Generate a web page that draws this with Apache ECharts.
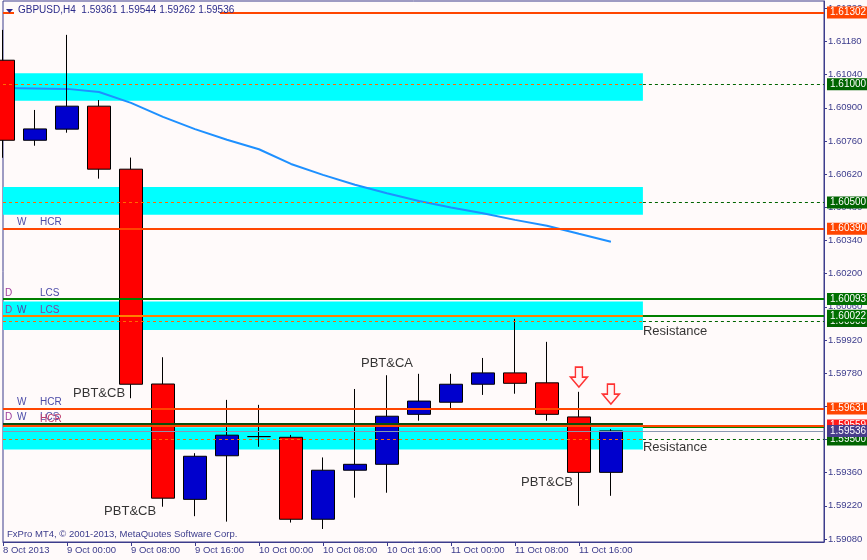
<!DOCTYPE html>
<html>
<head>
<meta charset="utf-8">
<title>GBPUSD,H4</title>
<script src="https://cdn.jsdelivr.net/npm/echarts@6.0.0/dist/echarts.min.js"></script>
<style>
	html, body { margin: 0; padding: 0; background: #fffafa; }
	#main { width: 867px; height: 560px; }
</style>
</head>
<body>
<div id="main"></div>
<script>
var symbolName = 'GBPUSD,H4';

// H4 bars: open, high, low, close
var ohlc = [
	[1.61101, 1.61229, 1.60689, 1.60763],
	[1.60763, 1.60891, 1.60740, 1.60811],
	[1.60810, 1.61208, 1.60795, 1.60907],
	[1.60907, 1.60933, 1.60601, 1.60641],
	[1.60641, 1.60690, 1.59674, 1.59733],
	[1.59734, 1.59847, 1.59216, 1.59252],
	[1.59247, 1.59442, 1.59176, 1.59429],
	[1.59431, 1.59667, 1.59153, 1.59518],
	[1.59512, 1.59646, 1.59469, 1.59512],
	[1.59509, 1.59519, 1.59149, 1.59163],
	[1.59163, 1.59424, 1.59122, 1.59370],
	[1.59370, 1.59713, 1.59254, 1.59395],
	[1.59395, 1.59771, 1.59275, 1.59598],
	[1.59606, 1.59777, 1.59579, 1.59662],
	[1.59657, 1.59777, 1.59629, 1.59733],
	[1.59733, 1.59844, 1.59688, 1.59781],
	[1.59781, 1.60009, 1.59693, 1.59737],
	[1.59739, 1.59912, 1.59579, 1.59606],
	[1.59595, 1.59701, 1.59220, 1.59361],
	[1.59361, 1.59544, 1.59262, 1.59536]
];

// moving average
var ma = [1.60984, 1.60982, 1.60980, 1.60967, 1.60921, 1.60862, 1.60810, 1.60765, 1.60725, 1.60663,
	1.60617, 1.60575, 1.60539, 1.60507, 1.60479, 1.60455, 1.60427, 1.60402, 1.60368, 1.60335];

// time axis
var xLabels = ['8 Oct 2013', '9 Oct 00:00', '9 Oct 08:00', '9 Oct 16:00', '10 Oct 00:00',
	'10 Oct 08:00', '10 Oct 16:00', '11 Oct 00:00', '11 Oct 08:00', '11 Oct 16:00'];
var xLabelIdx = [0, 2, 4, 6, 8, 10, 12, 14, 16, 18];
var xMax = 25.66;

// price axis
var yMin = 1.59067, yMax = 1.61351;
var yTicks = [1.59080, 1.59220, 1.59360, 1.59500, 1.59640, 1.59780, 1.59920, 1.60060, 1.60200,
	1.60340, 1.60480, 1.60620, 1.60760, 1.60900, 1.61040, 1.61180, 1.61320];

// cyan zones (top, bottom, middle dashed level), they end at bar index zoneEnd
var zoneTop = [1.61046, 1.60566, 1.60082, 1.59551];
var zoneBot = [1.60930, 1.60449, 1.59962, 1.59457];
var zoneMid = [1.61000, 1.60500, 1.60000, 1.59500];
var zoneEnd = 20;

// levels
var hcrLines = [1.61302, 1.60390, 1.59631, 1.59559];
var lcsLines = [1.60093, 1.60022];
var zoneLcs = 1.60022;
var zoneDark = 1.59567;
var zoneGreenR = 1.59552;

// level names at the left
var tagPrice = [1.60390, 1.60093, 1.60022, 1.59631, 1.59567, 1.59559];
var tagD = ['', 'D', 'D', '', 'D', ''];
var tagW = ['W', '', 'W', 'W', 'W', ''];
var tagT = ['HCR', 'LCS', 'LCS', 'HCR', 'LCS', 'HCR'];

// text notes: left bar index, price, text
var noteIdx = [2.19, 3.16, 11.19, 16.19, 20.0, 20.0];
var notePrice = [1.59696, 1.59198, 1.59819, 1.59318, 1.59954, 1.59465];
var noteText = ['PBT&CB', 'PBT&CB', 'PBT&CA', 'PBT&CB', 'Resistance', 'Resistance'];

// sell arrows
var arrowIdx = [18, 19];
var arrowTip = [1.59721, 1.59649];

var fnt = "'Liberation Sans', Arial, sans-serif";
var axisColor = '#3c3c8c';

function seg(x0, x1, p, color, width, type, tagBg) {
	var a = {
		coord: [x0, p],
		lineStyle: { color: color, width: width, type: type },
		label: { show: false }
	};
	if (tagBg) {
		a.label = {
			show: true,
			position: 'end',
			distance: 3,
			formatter: p.toFixed(5),
			color: '#fff',
			backgroundColor: tagBg,
			fontFamily: fnt,
			fontSize: 10,
			lineHeight: 11,
			padding: [1, 3, 0, 3]
		};
	}
	return [a, { coord: [x1, p] }];
}

function init() {
	var last = ohlc[ohlc.length - 1];
	var lines = [];
	var i;

	// dashed middle levels of the zones
	for (i = 0; i < zoneMid.length; i++) {
		lines.push(seg(0, zoneEnd, zoneMid[i], '#ff6a00', 1, [3, 3]));
		lines.push(seg(zoneEnd, xMax, zoneMid[i], '#006400', 1, [3, 3], '#006400'));
	}
	for (i = 0; i < hcrLines.length; i++) {
		lines.push(seg(0, xMax, hcrLines[i], '#ff4500', 2, 'solid', i == 3 ? '#ff1a1a' : '#ff4500'));
	}
	for (i = 0; i < lcsLines.length; i++) {
		lines.push(seg(0, xMax, lcsLines[i], '#008000', 2, 'solid', '#007000'));
	}
	lines.push(seg(0, zoneEnd, zoneLcs, '#ff8000', 2, 'solid'));
	lines.push(seg(0, zoneEnd, zoneDark, '#0b4d0b', 2, 'solid'));
	lines.push(seg(zoneEnd, xMax, zoneGreenR, '#008000', 1, 'solid'));
	// bid line
	lines.push(seg(0, xMax, last[3], '#8a98b0', 1, 'solid', '#483d8b'));

	var areas = [];
	for (i = 0; i < zoneTop.length; i++) {
		areas.push([{ coord: [0, zoneTop[i]] }, { coord: [zoneEnd, zoneBot[i]] }]);
	}

	var tagLines = [];
	for (i = 0; i < tagPrice.length; i++) {
		var tStyle = (i == 2) ? 'tp' : (i == 5 ? 'tr' : 't');
		tagLines.push([{
			coord: [0, tagPrice[i]],
			lineStyle: { color: 'rgba(0,0,0,0)', width: 0 },
			label: {
				show: true,
				position: 'insideStartTop',
				distance: [2, 1],
				formatter: '{d|' + tagD[i] + '}{w|' + tagW[i] + '}{' + tStyle + '|' + tagT[i] + '}',
				rich: {
					d: { width: 12, color: '#a03c9c', fontSize: 10, fontFamily: fnt },
					w: { width: 23, color: '#4b4ba8', fontSize: 10, fontFamily: fnt },
					t: { color: '#4b4ba8', fontSize: 10, fontFamily: fnt },
					tp: { color: '#8a3c9c', fontSize: 10, fontFamily: fnt },
					tr: { color: '#c04070', fontSize: 10, fontFamily: fnt }
				}
			}
		}, { coord: [xMax, tagPrice[i]] }]);
	}

	var candles = ohlc.map(function(d, k) {
		return [k, d[0], d[3], d[2], d[1]];
	});

	var chart = echarts.init(document.getElementById('main'));
	chart.setOption({
		backgroundColor: '#fffafa',
		animation: false,
		grid: {
			left: 3,
			right: 43,
			top: 1,
			bottom: 18,
			show: true,
			borderColor: axisColor,
			borderWidth: 1
		},
		xAxis: {
			type: 'value',
			min: 0,
			max: xMax,
			axisLine: { onZero: false, lineStyle: { color: axisColor } },
			splitLine: { show: false },
			axisTick: {
				show: true,
				length: 4,
				customValues: xLabelIdx,
				lineStyle: { color: axisColor }
			},
			axisLabel: {
				customValues: xLabelIdx,
				color: axisColor,
				fontFamily: fnt,
				fontSize: 9.5,
				align: 'left',
				margin: 3,
				formatter: function(v) {
					return xLabels[xLabelIdx.indexOf(Math.round(v))] || '';
				}
			}
		},
		yAxis: {
			type: 'value',
			position: 'right',
			min: yMin,
			max: yMax,
			axisLine: { show: true, onZero: false, lineStyle: { color: axisColor } },
			splitLine: { show: false },
			axisTick: {
				show: true,
				length: 3,
				customValues: yTicks,
				lineStyle: { color: axisColor }
			},
			axisLabel: {
				customValues: yTicks,
				color: axisColor,
				fontFamily: fnt,
				fontSize: 9.5,
				margin: 4,
				formatter: function(v) {
					return v.toFixed(5);
				}
			}
		},
		graphic: [{
			type: 'rect',
			z: 100,
			shape: { x: 14, y: 4, width: 206, height: 14 },
			style: { fill: '#fffafa' }
		}, {
			type: 'polygon',
			z: 101,
			shape: { points: [[6, 9], [13, 9], [9.5, 13]] },
			style: { fill: '#2b2b8a' }
		}, {
			type: 'text',
			z: 101,
			x: 18,
			y: 5,
			style: {
				text: symbolName + '  ' + last.map(function(v) { return v.toFixed(5); }).join(' '),
				fill: '#2b2b8a',
				font: '10px ' + fnt
			}
		}, {
			type: 'text',
			z: 101,
			x: 7,
			y: 529,
			style: {
				text: 'FxPro MT4, \u00a9 2001-2013, MetaQuotes Software Corp.',
				fill: axisColor,
				font: '9.5px ' + fnt
			}
		}],
		series: [{
			name: 'zones',
			type: 'line',
			z: 1,
			silent: true,
			data: [],
			markArea: {
				silent: true,
				itemStyle: { color: '#00ffff', opacity: 1 },
				data: areas
			}
		}, {
			name: 'levels',
			type: 'line',
			z: 2,
			silent: true,
			data: [],
			markLine: {
				silent: true,
				symbol: ['none', 'none'],
				animation: false,
				data: lines
			}
		}, {
			name: 'tags',
			type: 'line',
			z: 2,
			silent: true,
			data: [],
			markLine: {
				silent: true,
				symbol: ['none', 'none'],
				data: tagLines
			}
		}, {
			name: 'MA',
			type: 'line',
			z: 3,
			silent: true,
			symbol: 'none',
			lineStyle: { color: '#1e90ff', width: 2 },
			data: ma.map(function(v, k) { return [k, v]; })
		}, {
			name: symbolName,
			type: 'candlestick',
			z: 4,
			silent: true,
			barWidth: 24,
			encode: { x: 0, y: [1, 2, 3, 4] },
			itemStyle: {
				color: '#0000cd',
				color0: '#ff0000',
				borderColor: '#000',
				borderColor0: '#000',
				borderColorDoji: '#000',
				borderWidth: 1
			},
			data: candles
		}, {
			name: 'notes',
			type: 'scatter',
			z: 5,
			silent: true,
			symbolSize: 0,
			label: {
				show: true,
				position: 'right',
				distance: 0,
				color: '#000',
				fontFamily: fnt,
				fontSize: 13,
				formatter: function(p) {
					return noteText[p.dataIndex];
				}
			},
			data: noteIdx.map(function(v, k) { return [v, notePrice[k]]; })
		}, {
			name: 'arrows',
			type: 'scatter',
			z: 6,
			silent: true,
			symbol: 'path://M5,0 L12,0 L12,10 L17,10 L8.5,20 L0,10 L5,10 Z',
			symbolKeepAspect: false,
			symbolSize: [17, 20],
			symbolOffset: [0, '-50%'],
			itemStyle: {
				color: '#fff4f4',
				borderColor: '#ff0000',
				borderWidth: 1.5
			},
			data: arrowIdx.map(function(v, k) { return [v, arrowTip[k]]; })
		}]
	});
}

init();
</script>
</body>
</html>
